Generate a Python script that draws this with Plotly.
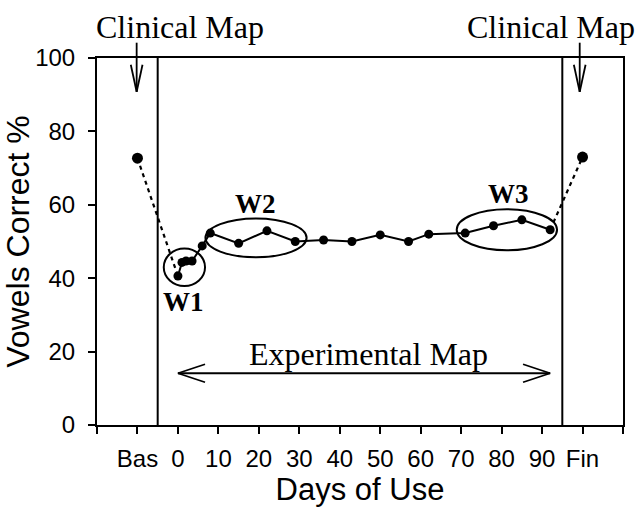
import plotly.graph_objects as go

# ---- data ----
days = [0, 1, 2, 3.5, 6, 8, 15, 22, 29, 36, 43, 50, 57, 62, 71, 78, 85, 92]
vowels = [40.6, 44.3, 44.7, 44.7, 48.8, 52.3, 49.5, 52.9, 50.0, 50.4, 50.0,
          51.8, 50.0, 52.0, 52.3, 54.3, 55.9, 53.2]
baseline_x = [-10]
baseline_y = [72.7]
final_x = [100]
final_y = [73.0]
tick_vals = [-20, -10, 0, 10, 20, 30, 40, 50, 60, 70, 80, 90, 100, 110]
tick_text = ["", "Bas", "0", "10", "20", "30", "40", "50", "60", "70", "80", "90", "Fin", ""]
y_ticks = [0, 20, 40, 60, 80, 100]

fig = go.Figure()

# dashed connectors
fig.add_trace(go.Scatter(x=[baseline_x[0], days[0]], y=[baseline_y[0], vowels[0]],
                         mode="lines", line=dict(color="black", width=2.2, dash="4px,4px"),
                         showlegend=False, hoverinfo="skip"))
fig.add_trace(go.Scatter(x=[days[-1], final_x[0]], y=[vowels[-1], final_y[0]],
                         mode="lines", line=dict(color="black", width=2.2, dash="4px,4px"),
                         showlegend=False, hoverinfo="skip"))
# main series
fig.add_trace(go.Scatter(x=days, y=vowels, mode="lines+markers",
                         line=dict(color="black", width=2),
                         marker=dict(color="black", size=9),
                         showlegend=False))
# baseline & final
fig.add_trace(go.Scatter(x=baseline_x + final_x, y=baseline_y + final_y, mode="markers",
                         marker=dict(color="black", size=11), showlegend=False))

shapes = []
L = dict(color="black", width=2)
# vertical separators
for xv in (-5, 95):
    shapes.append(dict(type="line", xref="x", yref="y", x0=xv, x1=xv, y0=0, y1=100, line=L))
# ellipses
for cx, cy, rx, ry in [(1.6, 43.0, 5.1, 5.1), (19.3, 51.0, 12.5, 5.3), (81.3, 53.2, 12.4, 5.6)]:
    shapes.append(dict(type="circle", xref="x", yref="y", x0=cx - rx, x1=cx + rx,
                       y0=cy - ry, y1=cy + ry, line=L))
# clinical map arrows (open V heads)
for ax in (-10.2, 99.3):
    shapes.append(dict(type="line", xref="x", yref="paper", x0=ax, x1=ax, y0=1.0417, y1=0.9081,
                       line=dict(color="black", width=1.8)))
    shapes.append(dict(type="line", xref="x", yref="paper", x0=ax - 1.45, x1=ax, y0=0.9817, y1=0.9081,
                       line=dict(color="black", width=1.8)))
    shapes.append(dict(type="line", xref="x", yref="paper", x0=ax + 1.45, x1=ax, y0=0.9817, y1=0.9081,
                       line=dict(color="black", width=1.8)))
# experimental map double arrow
ay = 14.1
shapes.append(dict(type="line", xref="x", yref="y", x0=0, x1=92, y0=ay, y1=ay,
                   line=dict(color="black", width=1.8)))
for tip, sgn in ((0, 1), (92, -1)):
    for d in (1, -1):
        shapes.append(dict(type="line", xref="x", yref="y", x0=tip, x1=tip + sgn * 6.7,
                           y0=ay, y1=ay + d * 2.45, line=dict(color="black", width=1.8)))

serif = "Liberation Serif, Times New Roman, serif"
annotations = [
    dict(text="Clinical Map", x=0.5, y=1.085, xref="x", yref="paper", showarrow=False,
         font=dict(family=serif, size=32, color="black"), xanchor="center", yanchor="middle"),
    dict(text="Clinical Map", x=92.3, y=1.085, xref="x", yref="paper", showarrow=False,
         font=dict(family=serif, size=32, color="black"), xanchor="center", yanchor="middle"),
    dict(text="Experimental Map", x=47.2, y=19.4, xref="x", yref="y", showarrow=False,
         font=dict(family=serif, size=32, color="black"), xanchor="center", yanchor="middle"),
    dict(text="<b>W1</b>", x=1.5, y=33.5, xref="x", yref="y", showarrow=False,
         font=dict(family=serif, size=27, color="black")),
    dict(text="<b>W2</b>", x=19.2, y=60.3, xref="x", yref="y", showarrow=False,
         font=dict(family=serif, size=27, color="black")),
    dict(text="<b>W3</b>", x=81.8, y=62.9, xref="x", yref="y", showarrow=False,
         font=dict(family=serif, size=27, color="black")),
]

sans = "Liberation Sans, Arial, sans-serif"
fig.update_layout(
    width=639, height=508,
    margin=dict(l=97, r=16, t=58, b=83),
    paper_bgcolor="white", plot_bgcolor="white",
    shapes=shapes, annotations=annotations,
    font=dict(family=sans, color="black"),
    xaxis=dict(range=[-20, 110], tickmode="array", tickvals=tick_vals, ticktext=tick_text,
               automargin=False,
               showgrid=False, zeroline=False, showline=True, linecolor="black", linewidth=2,
               mirror=True, ticks="outside", ticklen=7, tickwidth=2, tickcolor="black",
               tickfont=dict(size=24, family=sans), ticklabelstandoff=4,
               title=dict(text="Days of Use", font=dict(size=31, family=sans), standoff=7)),
    yaxis=dict(range=[0, 100], tickmode="array", tickvals=y_ticks,
               automargin=False,
               showgrid=False, zeroline=False, showline=True, linecolor="black", linewidth=2,
               mirror=True, ticks="outside", ticklen=7, tickwidth=2, tickcolor="black",
               tickfont=dict(size=24, family=sans), ticklabelstandoff=8,
               title=dict(text="Vowels Correct %", font=dict(size=32, family=sans), standoff=4)),
)

fig.write_html("out.html", config={"displayModeBar": False},
               post_script="document.body.style.margin='0px';")
